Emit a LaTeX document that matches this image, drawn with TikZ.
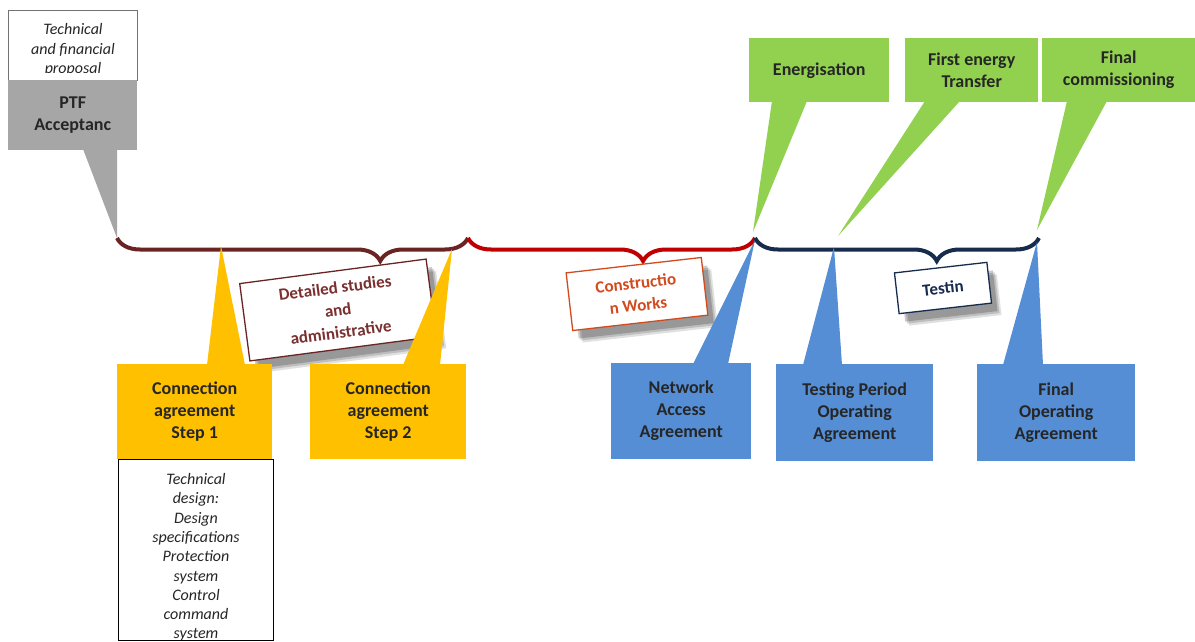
\documentclass[tikz,border=0pt]{standalone}
\usepackage{fontspec}
\setmainfont{Carlito}
\usetikzlibrary{decorations.pathreplacing,shadows,calc}
\definecolor{yel}{HTML}{FFC000}
\definecolor{blu}{HTML}{558ED5}
\definecolor{grn}{HTML}{92D050}
\definecolor{gry}{HTML}{A6A6A6}
\definecolor{txt}{HTML}{262626}
\definecolor{brn}{HTML}{6A2424}
\definecolor{brntxt}{HTML}{7A3030}
\definecolor{rd}{HTML}{C00000}
\definecolor{org}{HTML}{D24B1E}
\definecolor{nvy}{HTML}{172B4D}
\begin{document}
\begin{tikzpicture}[x=1pt,y=-1pt,
  callbox/.style={anchor=north west, inner sep=0pt, align=center, text=txt,
    font=\bfseries\fontsize{18}{22}\selectfont},
  ital/.style={inner sep=0pt, align=center, text=txt,
    font=\itshape\fontsize{16}{19.3}\selectfont},
  mybrace/.style={decorate, decoration={brace, mirror, amplitude=23pt, aspect=#1}, line width=4pt},
  lab/.style={draw, fill=white, line width=1.3pt, align=center, inner sep=0pt,
    font=\bfseries\fontsize{17}{22.5}\selectfont,
    drop shadow={shadow xshift=10pt, shadow yshift=-12pt, fill=black, opacity=0.12},
    drop shadow={shadow xshift=8pt, shadow yshift=-10pt, fill=black, opacity=0.15},
    drop shadow={shadow xshift=6pt, shadow yshift=-8pt, fill=black, opacity=0.2}}
]
\useasboundingbox (0,0) rectangle (1195,642);
\fill[white] (0,0) rectangle (1195,642);

% brace end points
\coordinate (b0) at (117,238);
\coordinate (b1) at (468,238);
\coordinate (b2) at (755,238);
\coordinate (b3) at (1039,238);

\draw[mybrace=0.75, brn] (b0) -- (b1);
\draw[mybrace=0.61, rd] (b1) -- (b2);
\draw[mybrace=0.64, nvy] (b2) -- (b3);

% tips
\coordinate (tPTF) at (117,238);
\coordinate (tCS1) at (221,246);
\coordinate (tCS2) at (452,249);
\coordinate (tNET) at (755,240);
\coordinate (tTPO) at (834,247);
\coordinate (tFOP) at (1037,242);
\coordinate (tENE) at (753,232);
\coordinate (tFET) at (838,236);
\coordinate (tFCO) at (1037,230);

% top-left boxes
\node[draw=black!55, line width=1pt, fill=white, minimum width=129pt, minimum height=70pt, anchor=north west, inner sep=0pt] (tfpbox) at (8,10) {};
\begin{scope}
\clip (8,10) rectangle (137,73);
\node[ital] (tfp) at (73,50) {Technical\\and financial\\proposal};
\end{scope}
\fill[gry] (83,149) -- (tPTF) -- (117,149) -- cycle;
\node[callbox, fill=gry, minimum width=129pt, minimum height=70pt] (ptf) at (8,80) {PTF\\Acceptanc};

% labels on braces
\node[lab, draw=brn, text=brntxt, rotate=7.5, minimum width=188pt, minimum height=78pt] (dsa) at (338,310) {Detailed studies\\and\\administrative};
\node[lab, draw=org, text=org, rotate=6.5, minimum width=136pt, minimum height=58pt] (cw) at (637,294) {Constructio\\n Works};
\node[lab, draw=nvy, text=nvy, rotate=6.5, minimum width=93pt, minimum height=41pt] (tst) at (943,288) {Testin};

% yellow callouts
\fill[yel] (207,365) -- (tCS1) -- (245,365) -- cycle;
\node[callbox, fill=yel, minimum width=155pt, minimum height=95pt] (cs1) at (117,364) {Connection\\agreement\\Step 1};
\fill[yel] (403,365) -- (tCS2) -- (440,365) -- cycle;
\node[callbox, fill=yel, minimum width=156pt, minimum height=95pt] (cs2) at (310,364) {Connection\\agreement\\Step 2};

% technical design box
\node[draw=black, line width=1pt, fill=white, minimum width=155pt, minimum height=181pt, anchor=north west, inner sep=0pt] (tdbox) at (118,459) {};
\begin{scope}
\clip (118,459) rectangle (273,639);
\node[ital] (td) at (196,557.5) {Technical\\design:\\Design\\specifications\\Protection\\system\\Control\\command\\system};
\end{scope}

% blue callouts
\fill[blu] (693,364) -- (tNET) -- (728,364) -- cycle;
\node[callbox, fill=blu, minimum width=140pt, minimum height=96pt] (net) at (611,363) {Network\\Access\\Agreement};
\fill[blu] (803,365) -- (tTPO) -- (842,365) -- cycle;
\node[callbox, fill=blu, minimum width=157pt, minimum height=97pt] (tpo) at (776,364) {Testing Period\\Operating\\Agreement};
\fill[blu] (1003,365) -- (tFOP) -- (1043,365) -- cycle;
\node[callbox, fill=blu, minimum width=158pt, minimum height=97pt] (fop) at (977,364) {Final\\Operating\\Agreement};

% green callouts
\fill[grn] (772,101) -- (tENE) -- (807,101) -- cycle;
\node[callbox, fill=grn, minimum width=140pt, minimum height=64pt] (ene) at (749,38) {Energisation};
\fill[grn] (925,101) -- (tFET) -- (960,101) -- cycle;
\node[callbox, fill=grn, minimum width=133pt, minimum height=64pt] (fet) at (905,38) {First energy\\Transfer};
\fill[grn] (1067,101) -- (tFCO) -- (1107,101) -- cycle;
\node[callbox, fill=grn, minimum width=153pt, minimum height=64pt, text width=153pt] (fco) at (1042,38) {Final\\commissioning};
\end{tikzpicture}
\end{document}
